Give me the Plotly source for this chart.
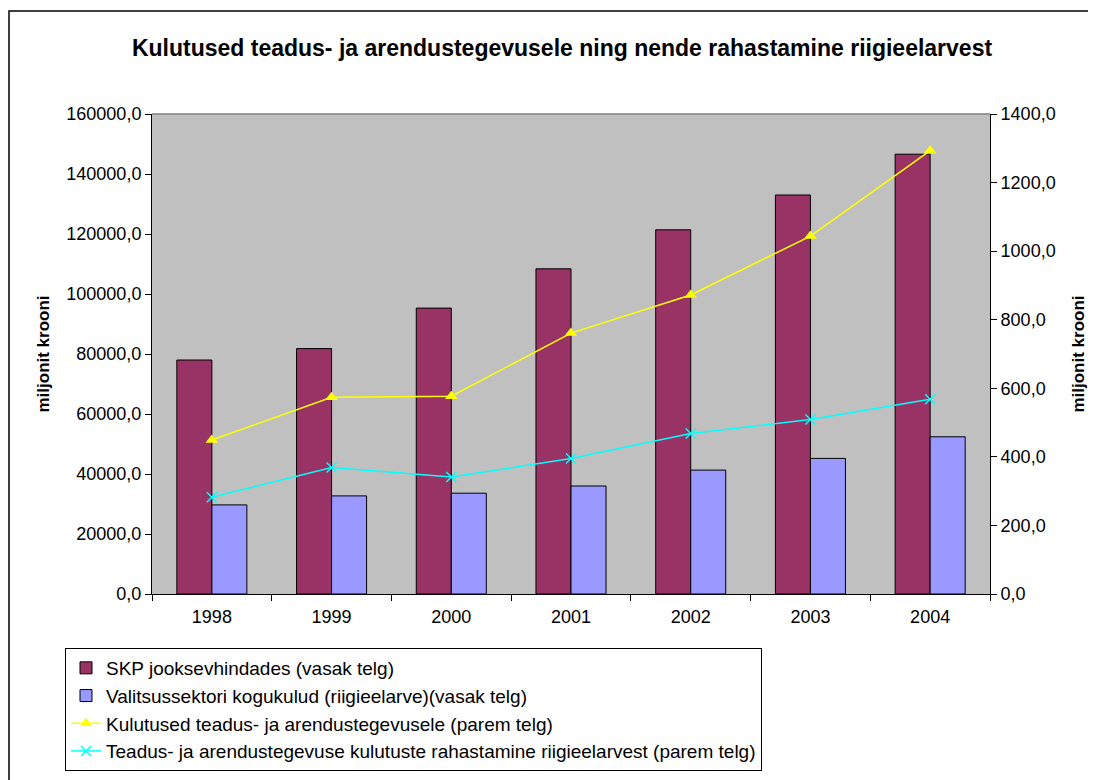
import plotly.graph_objects as go

years = ['1998', '1999', '2000', '2001', '2002', '2003', '2004']
skp = [78000, 81800, 95300, 108400, 121400, 133000, 146600]
valitsus = [29700, 32700, 33600, 36000, 41300, 45200, 52400]
kulutused_ta = [449, 574, 577, 761, 872, 1044, 1293]
ta_riigieelarvest = [282, 369, 341, 395, 468, 509, 568]

names = [
    'SKP jooksevhindades (vasak telg)',
    'Valitsussektori kogukulud (riigieelarve)(vasak telg)',
    'Kulutused teadus- ja arendustegevusele (parem telg)',
    'Teadus- ja arendustegevuse kulutuste rahastamine riigieelarvest (parem telg)',
]

FONT = 'Liberation Sans, Arial, sans-serif'

# page body has an 8px margin, so everything is laid out 8px up/left
OFF = 8
W, H = 1096, 780
L, T = 152 - OFF, 114 - OFF
R, B = W - (990 - OFF), H - (594 - OFF)
pw, ph = W - L - R, H - T - B


def px(x):
    return (x - OFF - L) / pw


def py(y):
    return (H - B - (y - OFF)) / ph


fig = go.Figure()
fig.add_trace(go.Bar(
    x=years, y=skp, name=names[0], legendgroup='a',
    marker=dict(color='#993366', line=dict(color='black', width=1)),
))
fig.add_trace(go.Bar(
    x=years, y=valitsus, name=names[1], legendgroup='b',
    marker=dict(color='#9999FF', line=dict(color='black', width=1)),
))
fig.add_trace(go.Scatter(
    x=years, y=kulutused_ta, name=names[2], yaxis='y2', legendgroup='c',
    mode='lines+markers', line=dict(color='#FFFF00', width=1.5),
    marker=dict(symbol='triangle-up', size=11, color='#FFFF00'),
))
fig.add_trace(go.Scatter(
    x=years, y=ta_riigieelarvest, name=names[3], yaxis='y2', legendgroup='d',
    mode='lines+markers', line=dict(color='#00FFFF', width=1.5),
    marker=dict(symbol='x-thin-open', size=10, color='#00FFFF', line=dict(color='#00FFFF', width=1.5)),
))

fig.update_layout(
    width=W, height=H,
    margin=dict(l=L, r=R, t=T, b=B, autoexpand=False),
    paper_bgcolor='white', plot_bgcolor='#C0C0C0',
    font=dict(family=FONT, size=18, color='black'),
    separators=', ',
    barmode='group', bargap=0.415, bargroupgap=0,
    title=dict(
        text='<b>Kulutused teadus- ja arendustegevusele ning nende rahastamine riigieelarvest</b>',
        x=(562 - OFF) / W, xref='container', xanchor='center',
        y=1 - (48 - OFF) / H, yref='container', yanchor='middle',
        font=dict(size=23),
    ),
    xaxis=dict(
        showgrid=False, showline=True, linecolor='black', linewidth=1,
        ticks='outside', tickson='boundaries', ticklen=6, tickcolor='black',
        tickfont=dict(size=18), ticklabelstandoff=6,
    ),
    yaxis=dict(
        range=[0, 160000], dtick=20000, tickformat='.1f',
        showgrid=False, zeroline=False, showline=True, linecolor='black', linewidth=1,
        ticks='outside', ticklen=6, tickcolor='black', tickfont=dict(size=18),
        title=dict(text='<b>miljonit krooni</b>', font=dict(size=17), standoff=12),
    ),
    yaxis2=dict(
        range=[0, 1400], dtick=200, tickformat='.1f', overlaying='y', side='right',
        showgrid=False, zeroline=False, showline=True, linecolor='black', linewidth=1,
        ticks='outside', ticklen=6, tickcolor='black', tickfont=dict(size=18),
        title=dict(text='<b>miljonit krooni</b>', font=dict(size=17), standoff=17),
    ),
    legend=dict(
        x=px(65), y=py(648), xanchor='left', yanchor='top',
        bgcolor='white', bordercolor='black', borderwidth=1,
        font=dict(size=19), tracegroupgap=0, traceorder='grouped',
    ),
    shapes=[
        # outer chart border
        dict(type='rect', xref='paper', yref='paper',
             x0=px(9), x1=px(1110), y0=py(800), y1=py(11),
             line=dict(color='black', width=1.5), layer='below'),
        # plot area top border
        dict(type='line', xref='paper', yref='paper', x0=0, x1=1, y0=1, y1=1,
             line=dict(color='#808080', width=1.5)),
    ],
)

fig.write_html('out.html')
